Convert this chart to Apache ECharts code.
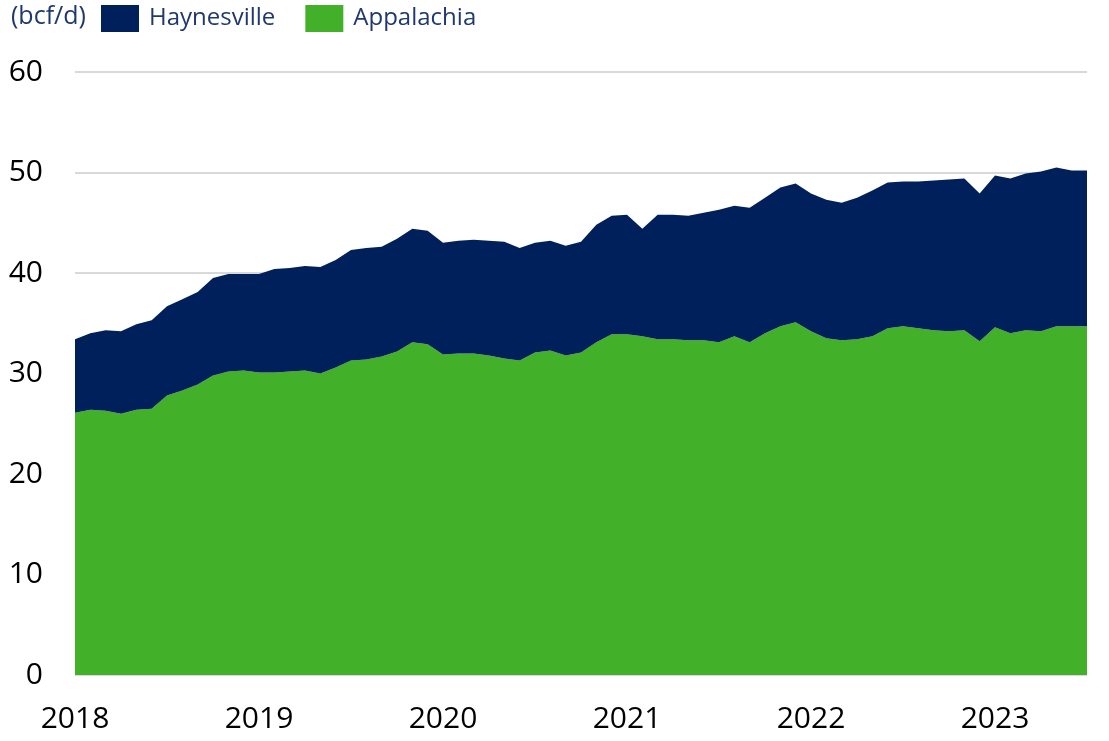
<!DOCTYPE html>
<html>
<head>
<meta charset="utf-8">
<script src="https://cdn.jsdelivr.net/npm/echarts@6/dist/echarts.min.js"></script>
<style>
  html, body { margin: 0; padding: 0; background: #fff; }
  #chart { width: 1109px; height: 741px; }
</style>
</head>
<body>
<div id="chart"></div>
<script>
// monthly, Jan 2018 .. Jul 2023
const months = []
for (let y = 2018; y <= 2023; y++) {
  for (let m = 1; m <= 12; m++) {
    if (y === 2023 && m > 7) break
    months.push(y + '-' + String(m).padStart(2, '0'))
  }
}

// Appalachia (bcf/d)
const appalachia = [
  26.1, 26.4, 26.3, 26.0, 26.4, 26.5, 27.8, 28.3, 28.9, 29.8, 30.2, 30.3,
  30.1, 30.1, 30.2, 30.3, 30.0, 30.6, 31.3, 31.4, 31.7, 32.2, 33.1, 32.9,
  31.9, 32.0, 32.0, 31.8, 31.5, 31.3, 32.1, 32.3, 31.8, 32.1, 33.1, 33.9,
  33.9, 33.7, 33.4, 33.4, 33.3, 33.3, 33.1, 33.7, 33.1, 34.0, 34.7, 35.1,
  34.2, 33.5, 33.3, 33.4, 33.7, 34.5, 34.7, 34.5, 34.3, 34.2, 34.3, 33.2,
  34.6, 34.0, 34.3, 34.2, 34.7, 34.7, 34.7
]

// total (Appalachia + Haynesville)
const total = [
  33.4, 34.0, 34.3, 34.2, 34.9, 35.3, 36.7, 37.4, 38.1, 39.5, 39.9, 39.9,
  39.9, 40.4, 40.5, 40.7, 40.6, 41.3, 42.3, 42.5, 42.6, 43.4, 44.4, 44.2,
  43.0, 43.2, 43.3, 43.2, 43.1, 42.5, 43.0, 43.2, 42.7, 43.1, 44.8, 45.7,
  45.8, 44.4, 45.8, 45.8, 45.7, 46.0, 46.3, 46.7, 46.5, 47.5, 48.5, 48.9,
  47.9, 47.3, 47.0, 47.5, 48.2, 49.0, 49.1, 49.1, 49.2, 49.3, 49.4, 47.9,
  49.7, 49.4, 49.9, 50.1, 50.5, 50.2, 50.2
]

const haynesville = total.map((t, i) => +(t - appalachia[i]).toFixed(1))

const yTicks = [0, 10, 20, 30, 40, 50, 60]

const navy = '#00205B'
const green = '#43B02A'
const fontFamily = '"Open Sans", "Noto Sans", sans-serif'

const chart = echarts.init(document.getElementById('chart'))

const option = {
  animation: false,
  title: {
    text: '(bcf/d)',
    left: 11,
    top: 4,
    padding: 0,
    textStyle: { color: '#1F3870', fontSize: 25, fontWeight: 'normal', fontFamily }
  },
  legend: {
    data: ['Haynesville', 'Appalachia'],
    left: 101,
    top: 5,
    padding: 0,
    itemWidth: 38,
    itemHeight: 27,
    itemGap: 30,
    icon: 'rect',
    textStyle: { color: '#1F3870', fontSize: 24, fontFamily, padding: [0, 0, 0, 5] }
  },
  grid: {
    left: 75,
    right: 22,
    top: 72,
    bottom: 66
  },
  xAxis: {
    type: 'category',
    data: months,
    boundaryGap: false,
    axisLine: { show: false },
    axisTick: { show: false },
    axisLabel: {
      interval: function (idx) { return idx % 12 === 0 },
      formatter: function (v) { return v.slice(0, 4) },
      color: '#000',
      fontSize: 30,
      fontFamily,
      margin: 29
    }
  },
  yAxis: {
    type: 'value',
    min: yTicks[0],
    max: yTicks[yTicks.length - 1],
    interval: 10,
    axisLine: { show: false },
    axisTick: { show: false },
    axisLabel: {
      color: '#000',
      fontSize: 30,
      fontFamily,
      margin: 32
    },
    splitLine: { lineStyle: { color: '#D9D9D9', width: 2 } }
  },
  series: [
    {
      name: 'Appalachia',
      type: 'line',
      stack: 'total',
      data: appalachia,
      showSymbol: false,
      lineStyle: { width: 0 },
      itemStyle: { color: green },
      areaStyle: { color: green, opacity: 1 }
    },
    {
      name: 'Haynesville',
      type: 'line',
      stack: 'total',
      data: haynesville,
      showSymbol: false,
      lineStyle: { width: 0 },
      itemStyle: { color: navy },
      areaStyle: { color: navy, opacity: 1 }
    }
  ]
}

chart.setOption(option)
</script>
</body>
</html>
